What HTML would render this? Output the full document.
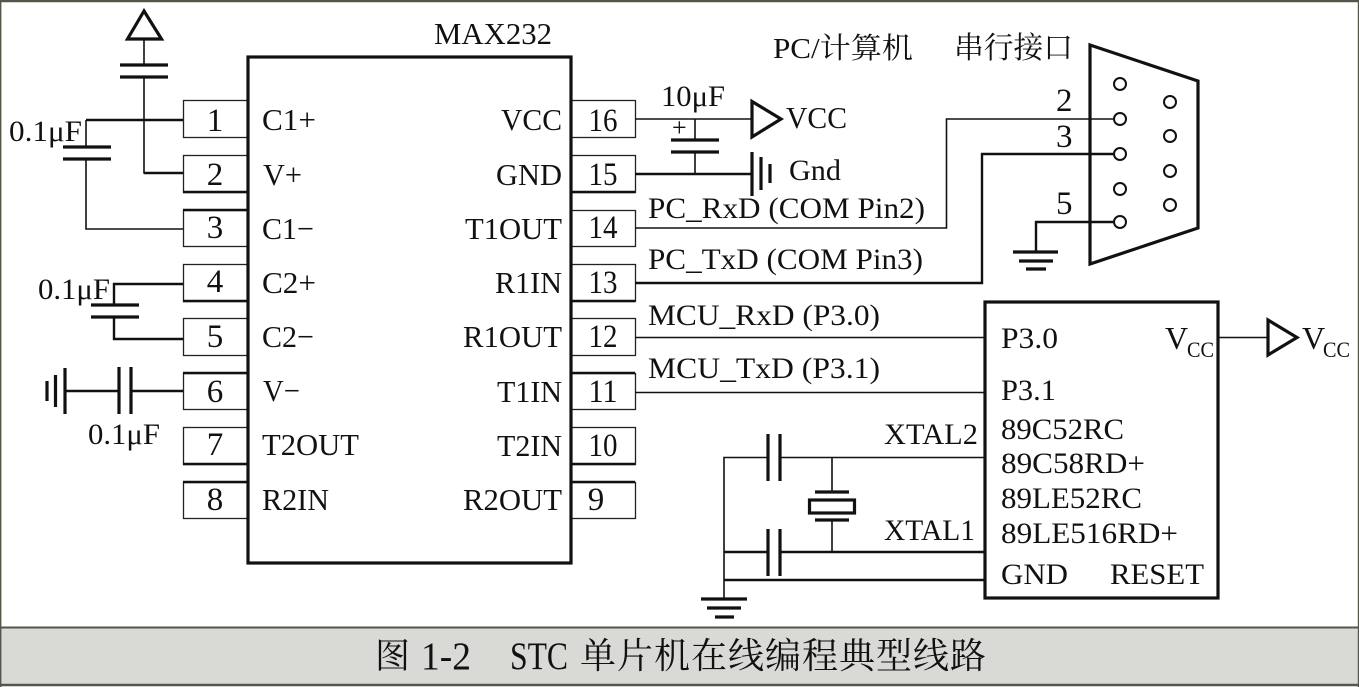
<!DOCTYPE html>
<html lang="zh"><head><meta charset="utf-8"><title>STC 单片机在线编程典型线路</title>
<style>
html,body{margin:0;padding:0;background:#fff}
svg{display:block}
text{font-family:"Liberation Serif","Noto Serif CJK SC",serif;fill:#111;font-size:31px}
.c{font-family:"Noto Serif CJK SC","Liberation Serif",serif}
.w{fill:none;stroke:#111;stroke-width:1.6}
.t{fill:none;stroke:#111;stroke-width:2.4}
.p{fill:none;stroke:#111;stroke-width:3.2}
.b{fill:none;stroke:#222;stroke-width:1.3}
</style></head><body>
<svg width="1359" height="687" viewBox="0 0 1359 687" xmlns="http://www.w3.org/2000/svg">
<rect x="0" y="0" width="1359" height="687" fill="#fff"/>
<rect x="0" y="627" width="1359" height="58" fill="#d9d9d5"/>
<path d="M0 627.5H1359" stroke="#55554c" stroke-width="2"/>
<path d="M0 685H1359" stroke="#55554c" stroke-width="2.4"/>
<path d="M0 1H1359" stroke="#55554c" stroke-width="2.4"/>
<path d="M.7 0V687M1358.5 0V687" stroke="#55554c" stroke-width="1.4"/>

<!-- pin boxes -->
<g class="b">
<rect x="183.5" y="100.5" width="65" height="37"/><rect x="183.5" y="155.5" width="65" height="37"/>
<rect x="183.5" y="210.5" width="65" height="36"/><rect x="183.5" y="264.5" width="65" height="37"/>
<rect x="183.5" y="318.5" width="65" height="37"/><rect x="183.5" y="373.5" width="65" height="36"/>
<rect x="183.5" y="427.5" width="65" height="37"/><rect x="183.5" y="482.5" width="65" height="36"/>
<rect x="570.5" y="100.5" width="65" height="37"/><rect x="570.5" y="155.5" width="65" height="37"/>
<rect x="570.5" y="210.5" width="65" height="36"/><rect x="570.5" y="264.5" width="65" height="37"/>
<rect x="570.5" y="318.5" width="65" height="37"/><rect x="570.5" y="373.5" width="65" height="36"/>
<rect x="570.5" y="427.5" width="65" height="37"/><rect x="570.5" y="482.5" width="65" height="36"/>
</g>
<path class="t" d="M183 192H248M183 210H248M183 301H248M183 373H248M183 464H248M183 482H248M571 192H635M571 301H635M571 373H635M571 464H635M571 482H635"/>
<rect class="p" x="248" y="57" width="323" height="506"/>

<!-- left wiring -->
<path class="p" d="M144 11L127.500 39H161.500Z"/>
<path class="w" d="M144 39V65M144 77V173H183"/>
<path class="p" d="M120 65H168M120 77H168"/>
<path class="t" d="M144 173H183"/>
<path class="t" d="M86 120H183"/>
<path class="w" d="M86 120V147M86 159V229H183"/>
<path class="p" d="M63 147H111M63 159H111"/>
<path class="t" d="M114 305V284H183M114 317V339H183"/>
<path class="p" d="M91 305H139M91 317H139"/>
<path class="t" d="M65 391H119M131 391H183"/>
<path class="p" d="M119 367V414M131 367V414M65 368V414M55.500 375V407M47 381V401"/>

<!-- right wiring -->
<path class="w" d="M635 119H752M695 119V140M695 152V174"/>
<path class="p" d="M752 101.500V137L781 119Z"/>
<path class="p" d="M671 140H719M671 152H719"/>
<path class="t" d="M635 174H752"/>
<path class="p" d="M752 152V196M761 157V190M770 164V183"/>
<path class="w" d="M635 228H946.500V119H1114"/>
<path class="t" d="M635 283H982V154H1114M1114 222H1036V252"/>
<path class="p" d="M1013 252H1058M1019 261H1053M1026 269H1046"/>

<!-- DB9 -->
<path class="p" d="M1090 45L1198 81V228L1090 264Z"/>
<g fill="#fff" stroke="#111" stroke-width="2">
<circle cx="1120" cy="84" r="6"/><circle cx="1120" cy="119" r="6"/><circle cx="1120" cy="154" r="6"/><circle cx="1120" cy="189" r="6"/><circle cx="1120" cy="222" r="6"/>
<circle cx="1170" cy="102" r="6"/><circle cx="1170" cy="136" r="6"/><circle cx="1170" cy="171" r="6"/><circle cx="1170" cy="205" r="6"/>
</g>

<!-- MCU -->
<rect class="p" x="985" y="302" width="233" height="296"/>
<path class="w" d="M635 337.500H985M635 392.500H985M1219 337.500H1268"/>
<path class="p" d="M1268 320V355L1297 337.500Z"/>
<path class="w" d="M768 457.500H724V600M780 457.500H985M832 457.500V491M832 520V552"/>
<path class="t" d="M724 552H768M780 552H985M724 580H985"/>
<path class="p" d="M768 434V481M780 434V481M768 529V576M780 529V576M815 492H849M815 520H849M701 599H747M707 608H741M715 617H734"/>
<rect class="p" x="809.500" y="500" width="45" height="13"/>

<!-- left labels -->
<g text-anchor="middle" style="font-size:32px">
<text x="215" y="131" style="font-size:33px">1</text><text x="215" y="185" style="font-size:33px">2</text><text x="215" y="238" style="font-size:33px">3</text><text x="215" y="292" style="font-size:33px">4</text>
<text x="215" y="347" style="font-size:33px">5</text><text x="215" y="402" style="font-size:33px">6</text><text x="215" y="455" style="font-size:33px">7</text><text x="215" y="510" style="font-size:33px">8</text>
<text x="603" y="131" style="font-size:33px" textLength="29" lengthAdjust="spacingAndGlyphs">16</text><text x="603" y="185" style="font-size:33px" textLength="29" lengthAdjust="spacingAndGlyphs">15</text><text x="603" y="238" style="font-size:33px" textLength="29" lengthAdjust="spacingAndGlyphs">14</text><text x="603" y="293" style="font-size:33px" textLength="29" lengthAdjust="spacingAndGlyphs">13</text>
<text x="603" y="347" style="font-size:33px" textLength="29" lengthAdjust="spacingAndGlyphs">12</text><text x="603" y="402" style="font-size:33px" textLength="29" lengthAdjust="spacingAndGlyphs">11</text><text x="603" y="456" style="font-size:33px" textLength="29" lengthAdjust="spacingAndGlyphs">10</text><text x="596" y="510" style="font-size:33px">9</text>
</g>
<text x="262" y="130" textLength="54" lengthAdjust="spacingAndGlyphs">C1+</text><text x="263" y="185" textLength="39" lengthAdjust="spacingAndGlyphs">V+</text><text x="262" y="239" textLength="52" lengthAdjust="spacingAndGlyphs">C1−</text><text x="262" y="293" textLength="54" lengthAdjust="spacingAndGlyphs">C2+</text>
<text x="262" y="347" textLength="52" lengthAdjust="spacingAndGlyphs">C2−</text><text x="263" y="401" textLength="37" lengthAdjust="spacingAndGlyphs">V−</text><text x="262" y="455" textLength="97" lengthAdjust="spacingAndGlyphs">T2OUT</text><text x="262" y="510" textLength="67" lengthAdjust="spacingAndGlyphs">R2IN</text>
<text x="501" y="130" textLength="61" lengthAdjust="spacingAndGlyphs">VCC</text>
<text x="496" y="185" textLength="66" lengthAdjust="spacingAndGlyphs">GND</text>
<text x="465" y="239" textLength="97" lengthAdjust="spacingAndGlyphs">T1OUT</text>
<text x="495" y="293" textLength="67" lengthAdjust="spacingAndGlyphs">R1IN</text>
<text x="463" y="347" textLength="99" lengthAdjust="spacingAndGlyphs">R1OUT</text>
<text x="497" y="402" textLength="65" lengthAdjust="spacingAndGlyphs">T1IN</text>
<text x="497" y="456" textLength="65" lengthAdjust="spacingAndGlyphs">T2IN</text>
<text x="463" y="510" textLength="99" lengthAdjust="spacingAndGlyphs">R2OUT</text>
<text x="434" y="44" textLength="118" lengthAdjust="spacingAndGlyphs">MAX232</text>
<text x="9" y="141" style="font-size:30px" textLength="73" lengthAdjust="spacingAndGlyphs">0.1μF</text>
<text x="38" y="299" style="font-size:30px" textLength="72" lengthAdjust="spacingAndGlyphs">0.1μF</text>
<text x="88" y="444" style="font-size:30px" textLength="72" lengthAdjust="spacingAndGlyphs">0.1μF</text>
<text x="661" y="106" style="font-size:30px" textLength="64" lengthAdjust="spacingAndGlyphs">10μF</text>
<text x="672" y="136" style="font-size:26px">+</text>
<text x="786" y="128" textLength="61" lengthAdjust="spacingAndGlyphs">VCC</text>
<text x="789" y="180" style="font-size:30px" textLength="52" lengthAdjust="spacingAndGlyphs">Gnd</text>
<text x="648" y="218" style="font-size:30px" textLength="277" lengthAdjust="spacingAndGlyphs">PC_RxD (COM Pin2)</text>
<text x="648" y="269" style="font-size:30px" textLength="275" lengthAdjust="spacingAndGlyphs">PC_TxD (COM Pin3)</text>
<text x="648" y="325" style="font-size:30px" textLength="232" lengthAdjust="spacingAndGlyphs">MCU_RxD (P3.0)</text>
<text x="648" y="378" style="font-size:30px" textLength="232" lengthAdjust="spacingAndGlyphs">MCU_TxD (P3.1)</text>
<text x="773" y="58" style="font-size:29px" textLength="140" lengthAdjust="spacingAndGlyphs">PC/计算机</text>
<text x="954" y="58" style="font-size:30px" textLength="119" lengthAdjust="spacingAndGlyphs">串行接口</text>
<text x="1056" y="111" style="font-size:33px">2</text><text x="1056" y="147" style="font-size:33px">3</text><text x="1056" y="214" style="font-size:33px">5</text>

<text x="1001" y="348" style="font-size:30px" textLength="57" lengthAdjust="spacingAndGlyphs">P3.0</text>
<text x="1001" y="400" style="font-size:30px" textLength="55" lengthAdjust="spacingAndGlyphs">P3.1</text>
<text x="1001" y="439" style="font-size:30px" textLength="123" lengthAdjust="spacingAndGlyphs">89C52RC</text>
<text x="1001" y="473" style="font-size:30px" textLength="144" lengthAdjust="spacingAndGlyphs">89C58RD+</text>
<text x="1001" y="508" style="font-size:30px" textLength="141" lengthAdjust="spacingAndGlyphs">89LE52RC</text>
<text x="1001" y="543" style="font-size:30px" textLength="177" lengthAdjust="spacingAndGlyphs">89LE516RD+</text>
<text x="1001" y="584" style="font-size:30px" textLength="67" lengthAdjust="spacingAndGlyphs">GND</text>
<text x="1110" y="584" style="font-size:30px" textLength="94" lengthAdjust="spacingAndGlyphs">RESET</text>
<text x="1165" y="349" style="font-size:32px">V</text><text x="1187" y="357" style="font-size:22px" textLength="27" lengthAdjust="spacingAndGlyphs">CC</text>
<text x="1302" y="349" style="font-size:32px">V</text><text x="1323" y="357" style="font-size:22px" textLength="27" lengthAdjust="spacingAndGlyphs">CC</text>
<text x="884" y="444" style="font-size:30px" textLength="94" lengthAdjust="spacingAndGlyphs">XTAL2</text>
<text x="884" y="540" style="font-size:30px" textLength="91" lengthAdjust="spacingAndGlyphs">XTAL1</text>

<!-- caption -->
<text class="c" x="375" y="668" style="font-size:35px">图</text>
<text x="421" y="669" style="font-size:39px" textLength="50" lengthAdjust="spacingAndGlyphs">1-2</text>
<text x="510" y="669" style="font-size:39px" textLength="58" lengthAdjust="spacingAndGlyphs">STC</text>
<text class="c" x="580" y="668" style="font-size:36px" textLength="406" lengthAdjust="spacing">单片机在线编程典型线路</text>
</svg>
</body></html>
